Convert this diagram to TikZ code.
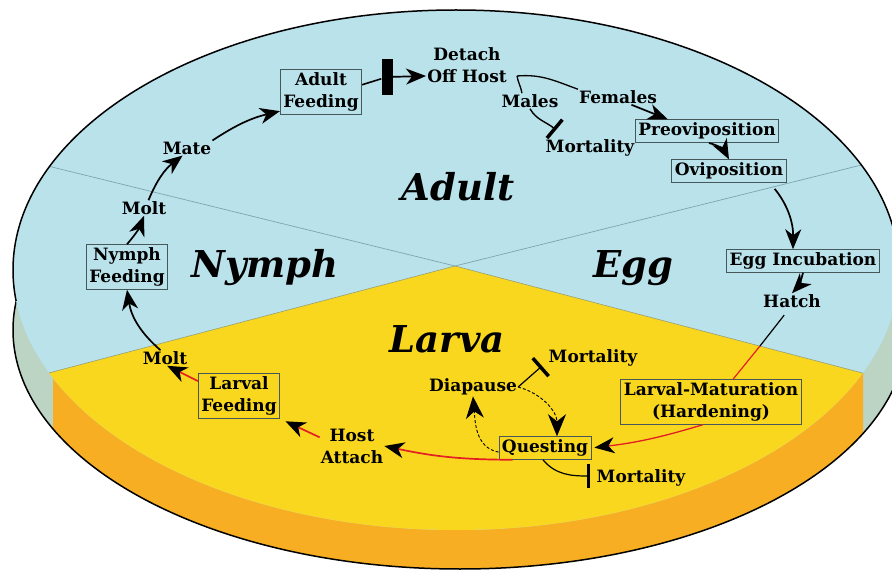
\documentclass[tikz,border=0pt]{standalone}
\usepackage{fontspec}
\setmainfont{DejaVu Serif}
\usepackage{tikz}
\usetikzlibrary{arrows.meta}
\definecolor{topblue}{RGB}{186,226,235}
\definecolor{larvayel}{RGB}{248,215,30}
\definecolor{rimorange}{RGB}{247,174,34}
\definecolor{rimgray}{RGB}{187,212,196}
\definecolor{boxline}{RGB}{70,88,90}
\definecolor{seam}{RGB}{125,165,175}
\definecolor{seamlow}{RGB}{150,160,120}
\definecolor{tickred}{RGB}{228,30,36}
\tikzset{stage/.style={rectangle,draw=boxline,line width=0.8pt,inner sep=3pt,align=center,
font=\fontsize{17}{22}\selectfont\bfseries},
word/.style={rectangle,inner sep=1pt,align=center,font=\fontsize{17}{22}\selectfont\bfseries},
phase/.style={anchor=base,inner sep=0pt,font=\fontsize{37}{37}\selectfont\bfseries\itshape},
stopbar/.style={rectangle,fill=black,minimum width=11pt,minimum height=36pt,inner sep=0pt},
flow/.style={-{Stealth[length=20pt,width=16pt,inset=6pt,black]},line width=1.7pt},
redflow/.style={flow,draw=tickred},
wire/.style={line width=1.6pt},
redwire/.style={wire,draw=tickred},
loopflow/.style={-{Stealth[length=22pt,width=18pt,inset=7pt,black]},line width=0.9pt,dash pattern=on 3pt off 2pt},
kill/.style={-{Bar[width=24pt,line width=3.5pt]},line width=1.4pt},
rim/.style={line width=1.5pt}}

\begin{document}
\begin{tikzpicture}[x=1pt,y=1pt]
  \useasboundingbox (0,0) rectangle (892,-572);

  % disk
  \fill[rimgray] (460,-330) ellipse [x radius=447, y radius=239];
  \begin{scope}
    \clip (53,0) rectangle (863,-572);
    \fill[rimorange] (460,-330) ellipse [x radius=447, y radius=239];
  \end{scope}
  \draw[rim] (460,-330) ellipse [x radius=447, y radius=239];
  \fill[topblue] (456,-270) ellipse [x radius=443, y radius=260];
  \begin{scope}
    \clip (456,-270) ellipse [x radius=443, y radius=260];
    \fill[larvayel] (455,-266) -- (-50,-399) -- (-50,-700) -- (950,-700) -- (950,-396) -- cycle;
    \draw[seam,line width=0.7pt] (-50,-142) -- (455,-266) -- (950,-143);
    \draw[seamlow,line width=0.6pt] (-50,-399) -- (455,-266) -- (950,-396);
  \end{scope}
  \begin{scope}
    \clip (0,0) rectangle (892,-300);
    \draw[rim] (456,-270) ellipse [x radius=443, y radius=260];
  \end{scope}

  \node (adultlbl) [phase] at (458,-201) {Adult};
  \node (nymphlbl) [phase] at (265,-277) {Nymph};
  \node (egglbl) [phase] at (633,-277) {Egg};
  \node (larvalbl) [phase] at (447,-352) {Larva};

  \node (adultfeed) [stage] at (321,-92) {Adult\\Feeding};
  \node (block) [stopbar] at (387,-77) {};
  \node (detach) [word] at (467,-65) {Detach\\Off Host};
  \coordinate (split) at (517,-76);
  \node (males) [word] at (530,-101) {Males};
  \node (females) [word] at (618,-97) {Females};
  \node (mort1) [word] at (590,-148) {Mortality};
  \node (preovi) [stage] at (707,-131) {Preoviposition};
  \node (ovi) [stage] at (729,-171) {Oviposition};
  \node (egginc) [stage] at (803,-261) {Egg Incubation};
  \node (hatch) [word] at (792,-301) {Hatch};
  \node (larvmat) [stage] at (711,-402) {Larval-Maturation\\(Hardening)};
  \node (quest) [stage] at (545,-448) {Questing};
  \node (diap) [word] at (473,-387) {Diapause};
  \node (mort2) [word] at (593,-358) {Mortality};
  \node (mort3) [word] at (641,-478) {Mortality};
  \node (hostatt) [word] at (352,-446) {Host\\Attach};
  \node (larvfeed) [stage] at (239,-396) {Larval\\Feeding};
  \node (molt1) [word] at (165,-358) {Molt};
  \node (nymphfeed) [stage] at (127,-267) {Nymph\\Feeding};
  \node (molt2) [word] at (144,-208) {Molt};
  \node (mate) [word] at (187,-148) {Mate};

  \coordinate (stop1) at (556,-130);
  \coordinate (stop2) at (542,-366);
  \coordinate (stop3) at (590,-476);
  \coordinate (hx) at (760,-346);

  \draw[flow] (mate.north east) to[bend left=10] (adultfeed.205);
  \draw[wire] (adultfeed.10) -- (block);
  \draw[flow] (block) -- ([yshift=-11pt]detach.west);
  \draw[wire,line width=1.3pt] (split) to[out=5,in=160] (females.north west);
  \draw[wire,line width=1.3pt] (split) to[out=-80,in=100] ([xshift=-8pt]males.north);
  \draw[kill] (males.south) to[out=-60,in=140] (stop1);
  \draw[flow] (females.-30) -- ([xshift=33pt]preovi.north west);
  \draw[flow,shorten <=2pt] (preovi.south) to[bend left=25] (ovi.north);
  \draw[flow,shorten <=8pt] (ovi.-16) to[bend left=20] ([xshift=-10pt]egginc.north);
  \draw[flow] (egginc.south) to[bend left=15] (hatch.north);
  \draw[wire,line width=1.2pt,shorten <=8pt] (hatch.250) -- (hx);
  \draw[redwire,line width=1.2pt] (hx) -- ([xshift=22pt]larvmat.north);
  \draw[redflow,line width=1.3pt,shorten >=3pt] (larvmat.250) to[bend left=5] (quest.east);
  \draw[kill,line width=1.2pt] (quest.-100) to[out=-50,in=180] (stop3);
  \draw[kill,line width=1.2pt] (diap.east) -- (stop2);
  \draw[loopflow] (diap.east) to[out=-15,in=90] ([xshift=12pt]quest.north);
  \draw[loopflow] (quest.185) to[out=170,in=-85] (diap.south);
  \draw[redflow] (quest.200) to[bend left=6] (hostatt.east);
  \draw[redflow,shorten >=6pt] (hostatt.165) -- (larvfeed.south east);
  \draw[redflow] (larvfeed.160) -- (molt1.-75);
  \draw[flow] (molt1.120) to[bend left=20] (nymphfeed.south);
  \draw[flow] (nymphfeed.north) to[bend right=10] (molt2.south);
  \draw[flow] (molt2.60) to[bend left=15] (mate.240);
\end{tikzpicture}
\end{document}
